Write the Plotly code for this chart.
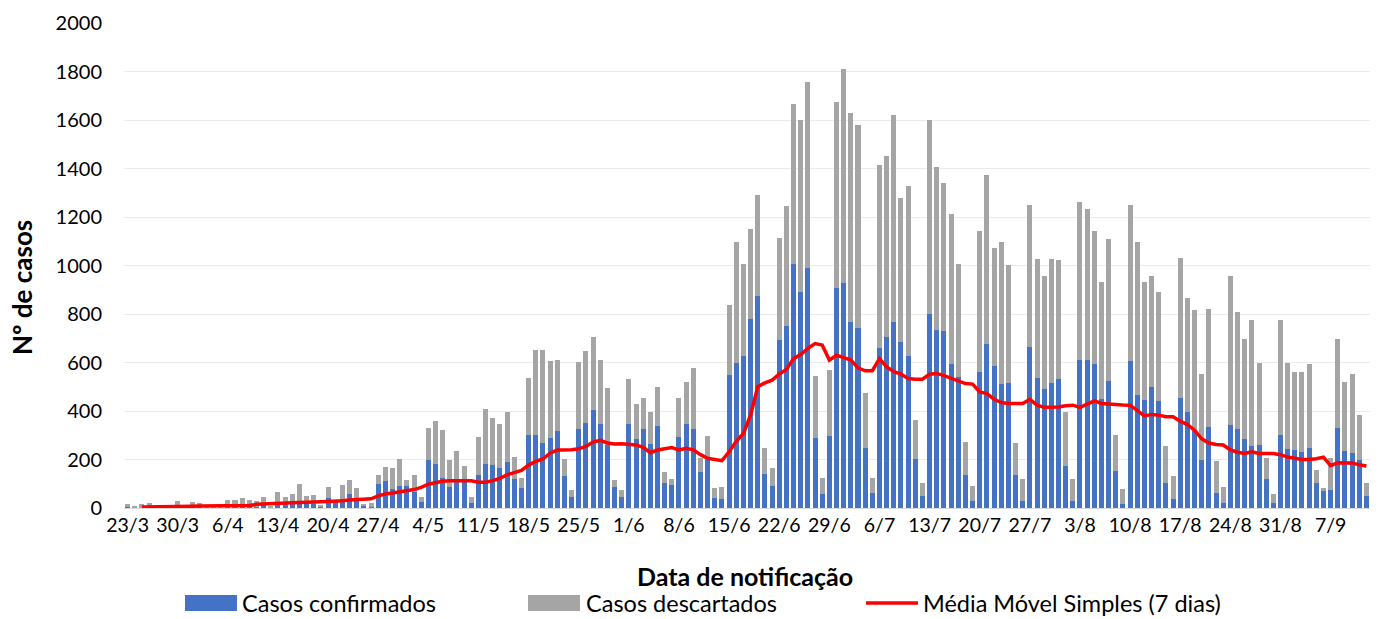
import pandas as pd
import plotly.graph_objects as go

# Daily data, 23/3 to 12/9
datas = pd.date_range("2020-03-23", "2020-09-12", freq="D")

confirmados = [
    3, 2, 2, 3, 1, 1, 1, 3, 2, 3, 3, 2, 1, 1,
    4, 4, 5, 5, 6, 20, 3, 20, 15, 18, 20, 18, 18, 5,
    40, 28, 37, 56, 34, 10, 5, 99, 110, 78, 92, 89, 64, 26,
    200, 181, 122, 85, 108, 108, 21, 137, 181, 177, 163, 190, 120, 81,
    300, 303, 269, 287, 317, 132, 44, 327, 351, 403, 346, 260, 88, 44,
    346, 286, 327, 262, 338, 104, 95, 291, 346, 324, 147, 200, 40, 37,
    550, 599, 626, 781, 873, 140, 91, 692, 750, 1008, 891, 990, 290, 58,
    298, 908, 928, 765, 743, 246, 63, 658, 706, 767, 685, 626, 203, 51,
    802, 736, 729, 592, 541, 136, 30, 562, 676, 586, 511, 516, 135, 29,
    665, 537, 489, 514, 531, 173, 27, 610, 612, 592, 448, 523, 154, 15,
    606, 468, 445, 497, 442, 104, 37, 454, 397, 317, 200, 335, 60, 22,
    342, 325, 283, 255, 259, 119, 19, 301, 242, 239, 232, 248, 102, 71,
    74, 328, 235, 228, 200, 51,
]

descartados = [
    13, 5, 16, 17, 4, 2, 3, 24, 10, 22, 17, 10, 4, 2,
    30, 30, 37, 29, 24, 27, 5, 46, 29, 39, 77, 33, 37, 5,
    45, 7, 59, 60, 48, 6, 15, 38, 61, 86, 111, 26, 74, 18,
    129, 178, 200, 114, 128, 65, 26, 156, 227, 196, 182, 205, 92, 41,
    237, 349, 383, 318, 292, 71, 30, 276, 297, 302, 263, 236, 27, 30,
    188, 142, 125, 135, 160, 46, 23, 163, 174, 254, 58, 98, 44, 51,
    286, 498, 379, 371, 416, 108, 75, 423, 495, 656, 707, 766, 254, 64,
    270, 766, 883, 863, 835, 229, 62, 758, 744, 855, 595, 700, 159, 53,
    800, 670, 611, 619, 464, 137, 61, 580, 698, 486, 586, 485, 135, 89,
    586, 489, 468, 512, 493, 221, 92, 652, 622, 549, 482, 588, 149, 62,
    642, 629, 485, 460, 449, 153, 95, 578, 469, 501, 351, 485, 135, 63,
    615, 484, 413, 522, 337, 86, 39, 473, 354, 323, 327, 344, 55, 13,
    131, 368, 285, 323, 182, 53,
]

media_movel = [
    None, None, 4, 4, 4, 4, 5,
    6, 6, 7, 8, 8, 8,
    7, 7, 7, 8, 10, 15, 17, 18, 20, 21, 22, 23, 23, 24,
    26, 27, 27, 30, 33, 34, 35, 38, 50, 58, 62, 67, 71, 76, 85,
    98, 104, 110, 112, 113, 113, 112, 106, 106, 113, 122, 137, 146, 155, 177,
    192, 202, 226, 239, 239, 240, 244, 254, 272, 279, 268, 264, 265, 262,
    260, 250, 228, 239, 244, 249, 239, 246, 240, 220, 205, 200, 195, 232, 275,
    307, 383, 500, 516, 527, 552, 571, 616, 633, 658, 678, 672, 610, 630,
    620, 610, 578, 566, 566, 616, 582, 562, 552, 534, 531, 531, 552, 555, 546,
    534, 523, 513, 511, 479, 472, 448, 435, 431, 431, 431, 448, 424, 415,
    415, 417, 422, 424, 415, 430, 442, 431, 428, 426, 425, 424, 400, 380, 386,
    383, 376, 376, 358, 344, 321, 285, 268, 262, 260, 240, 230, 225, 232,
    225, 225, 225, 220, 210, 205, 200, 200, 203, 210, 175, 187, 187, 186, 178, 173,
]

rotulos_x = ["23/3", "30/3", "6/4", "13/4", "20/4", "27/4", "4/5", "11/5", "18/5",
             "25/5", "1/6", "8/6", "15/6", "22/6", "29/6", "6/7", "13/7", "20/7",
             "27/7", "3/8", "10/8", "17/8", "24/8", "31/8", "7/9"]
ticks_x = list(datas[::7])

nomes = ["Casos confirmados", "Casos descartados", "Média Móvel Simples (7 dias)"]
AZUL, CINZA, VERMELHO = "#4472C4", "#A5A5A5", "#FF0000"
FONTE = "Lato"

fig = go.Figure()
fig.add_trace(go.Bar(x=datas, y=confirmados, name=nomes[0], marker_color=AZUL,
                     marker_line_width=0, showlegend=False))
fig.add_trace(go.Bar(x=datas, y=descartados, name=nomes[1], marker_color=CINZA,
                     marker_line_width=0, showlegend=False))
fig.add_trace(go.Scatter(x=datas, y=media_movel, name=nomes[2], mode="lines",
                         line=dict(color=VERMELHO, width=3.5), showlegend=False))

L, R, T, B = 124, 11, 23, 111
W, H = 1381, 619
pw, ph = W - L - R, H - T - B


def px(xp):
    return (xp - L) / pw


def py(yp):
    return (H - B - yp) / ph


fig.update_layout(
    width=W, height=H, autosize=False,
    margin=dict(l=L, r=R, t=T, b=B),
    barmode="stack", bargap=0.3,
    plot_bgcolor="white", paper_bgcolor="white",
    font=dict(family=FONTE, size=20, color="#000000"),
    xaxis=dict(
        range=[datas[0] - pd.Timedelta(hours=12), datas[-1] + pd.Timedelta(hours=12)],
        tickvals=ticks_x, ticktext=rotulos_x, showgrid=False,
        showline=True, linecolor="#D9D9D9", linewidth=1,
        tickfont=dict(family=FONTE, size=19.5), ticks="", zeroline=False,
    ),
    yaxis=dict(
        range=[0, 2000], dtick=200, tick0=0, showgrid=True,
        gridcolor="#EBEBEB", gridwidth=1, zeroline=False, showline=False,
        tickfont=dict(family=FONTE, size=20), ticks="", ticklabelstandoff=21,
    ),
)

anots = [
    dict(text="<b>Nº de casos</b>", xref="paper", yref="paper", x=px(22), y=py(288),
         textangle=-90, showarrow=False, xanchor="center", yanchor="middle",
         font=dict(family=FONTE, size=26)),
    dict(text="<b>Data de notificação</b>", xref="paper", yref="paper", x=px(745), y=py(576),
         showarrow=False, xanchor="center", yanchor="middle", borderpad=0,
         font=dict(family=FONTE, size=25)),
]
shapes = []
leg_y = 603
legend_items = [
    (185, 237, 241, nomes[0], AZUL, "rect"),
    (528, 580, 585, nomes[1], CINZA, "rect"),
    (866, 918, 922, nomes[2], VERMELHO, "line"),
]
for x0, x1, xt, nome, cor, tipo in legend_items:
    if tipo == "rect":
        shapes.append(dict(type="rect", xref="paper", yref="paper",
                           x0=px(x0), x1=px(x1), y0=py(leg_y + 8), y1=py(leg_y - 8),
                           fillcolor=cor, line=dict(width=0)))
    else:
        shapes.append(dict(type="line", xref="paper", yref="paper",
                           x0=px(x0), x1=px(x1), y0=py(leg_y), y1=py(leg_y),
                           line=dict(color=cor, width=3.5)))
    anots.append(dict(text=nome, xref="paper", yref="paper", x=px(xt), y=py(leg_y),
                      showarrow=False, xanchor="left", yanchor="middle", borderpad=0,
                      font=dict(family=FONTE, size=23.5)))

fig.update_layout(annotations=anots, shapes=shapes)
fig.write_html(
    "out.html",
    config={"displayModeBar": False},
    post_script="document.body.style.margin='0px';document.body.style.padding='0px';"
                "document.body.style.overflow='hidden';",
)
